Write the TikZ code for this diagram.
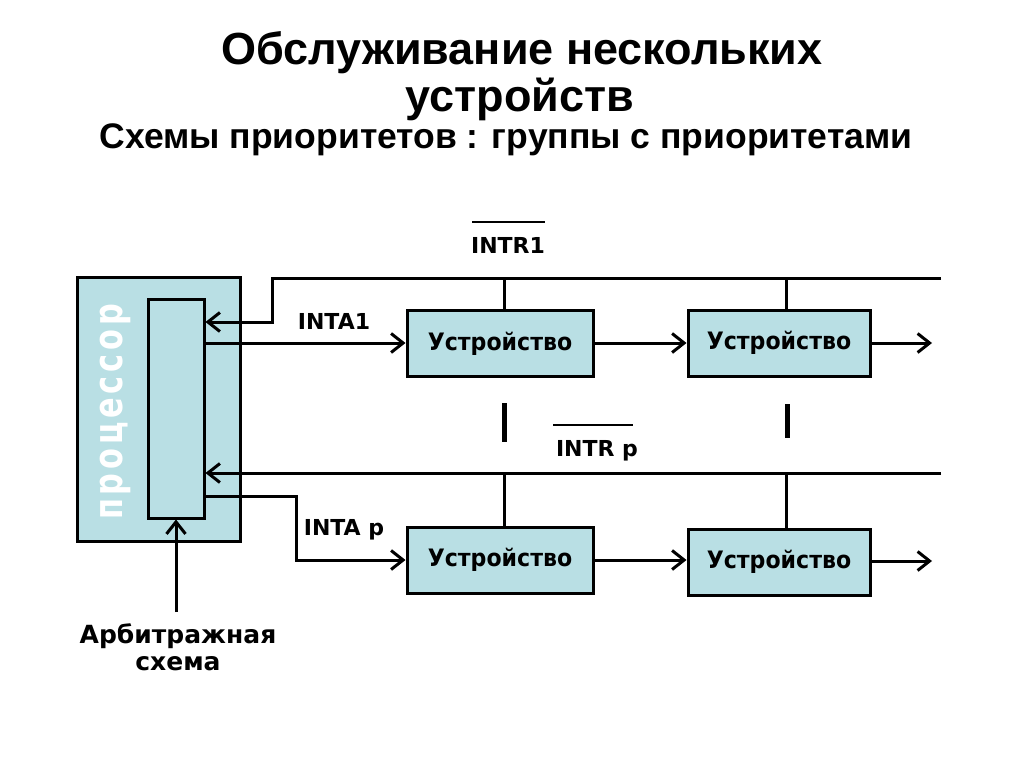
\documentclass[tikz,border=0pt]{standalone}
\usepackage{fontspec}
\setmainfont{DejaVu Sans}
\newfontfamily\titlefont{Liberation Sans}
\newfontfamily\boxfont[FakeStretch=0.92]{DejaVu Sans}
\usetikzlibrary{arrows.meta,positioning}
\definecolor{boxblue}{RGB}{185,223,228}

\begin{document}
\begin{tikzpicture}[x=1pt,y=-1pt,
    wire/.style={line width=3pt},
    sig/.style={wire,-{Straight Barb[length=12pt,width=19pt,line width=3pt]}},
    dev/.style={draw,line width=3pt,fill=boxblue,minimum height=66pt,inner sep=0pt,
      font=\boxfont\fontsize{24}{28}\selectfont\bfseries},
    lbl/.style={font=\fontsize{22}{26}\selectfont\bfseries,inner sep=0pt}]
    \useasboundingbox (0,0) rectangle (1024,768);
    % titles
    \node[anchor=base,font=\titlefont\fontsize{45}{50}\selectfont\bfseries] (title) at (522,64) {Обслуживание нескольких};
    \node[anchor=base,font=\titlefont\fontsize{45}{50}\selectfont\bfseries] (title2) at (520,111) {устройств};
    \node[anchor=base,font=\titlefont\fontsize{35.5}{40}\selectfont\bfseries] (subtitle) at (506,148) {Схемы приоритетов : группы с приоритетами};
    % processor
    \node[draw,line width=3pt,fill=boxblue,minimum width=163pt,minimum height=264pt] (cpu) at (158.5,409) {};
    \node[draw,line width=3pt,fill=boxblue,minimum width=56pt,minimum height=219pt] (arb) at (176,408.5) {};
    \node[rotate=90,white,font=\fontsize{40}{42}\selectfont\bfseries] (cpuname) at (115,412)
      {\scalebox{0.76}[1]{п\kern5ptр\kern5ptо\kern5ptц\kern5ptе\kern5ptс\kern5ptс\kern5ptо\kern5ptр}};
    % devices
    \node[dev,minimum width=186pt] (dev1) at (500,343.5) {Устройство};
    \node[dev,minimum width=182pt] (dev2) at (779,343) {Устройство};
    \node[dev,minimum width=186pt] (dev3) at (500,560) {Устройство};
    \node[dev,minimum width=182pt] (dev4) at (779,562) {Устройство};
    % buses
    \coordinate (bus1) at (941,278);
    \coordinate (bus2) at (941,473);
    \coordinate (out1) at (932,343);
    \coordinate (out2) at (932,561);
    \coordinate (arbin) at (176,612);
    \draw[sig] (bus1) -- (272,278) |- (arb.east |- 0,322);
    \draw[sig] (bus2) -- (arb.east |- 0,473);
    \draw[wire] (dev1.north -| 504,0) -- (504,278);
    \draw[wire] (dev2.north -| 786,0) -- (786,278);
    \draw[wire] (dev3.north -| 504,0) -- (504,473);
    \draw[wire] (dev4.north -| 786,0) -- (786,473);
    \draw[line width=5pt] (504,403) -- (504,442);
    \draw[line width=5pt] (787,404) -- (787,438);
    % acknowledge chains
    \draw[sig] (arb.east |- 0,343) -- (dev1.west |- 0,343);
    \draw[sig] (dev1.east |- 0,343) -- (dev2.west |- 0,343);
    \draw[sig] (dev2.east |- 0,343) -- (out1);
    \draw[sig] (arb.east |- 0,496) -- (296,496) |- (dev3.west |- 0,560);
    \draw[sig] (dev3.east |- 0,560) -- (dev4.west |- 0,560);
    \draw[sig] (dev4.east |- 0,561) -- (out2);
    \draw[sig] (arbin) -- (arb.south);
    % labels
    \node[lbl] (intr1) at (508,245) {INTR1};
    \draw[line width=2.5pt] (472,222) -- (545,222);
    \node[lbl] (intrp) at (597,451) {INTR p};
    \draw[line width=2.5pt] (553,425) -- (633,425);
    \node[lbl] (inta1) at (334,321) {INTA1};
    \node[lbl] (intap) at (344,530) {INTA p};
    \node[font=\fontsize{25}{27}\selectfont\bfseries,align=center] (arbname) at (178,647) {Арбитражная\\схема};
\end{tikzpicture}
\end{document}
